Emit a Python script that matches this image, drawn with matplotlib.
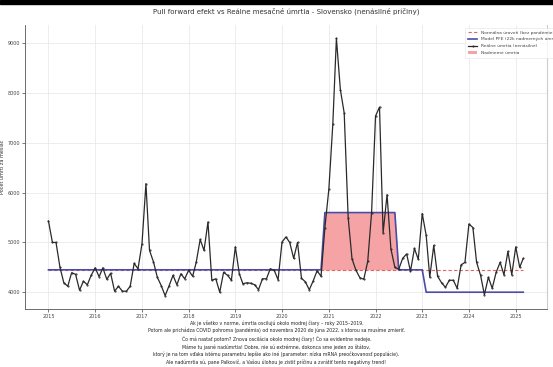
import numpy as np
import pandas as pd
import matplotlib
matplotlib.use("Agg")
import matplotlib.pyplot as plt
import matplotlib.dates as mdates
from matplotlib.patches import Rectangle

# monthly non-violent deaths, Jan 2015 - Mar 2025
months = pd.date_range("2015-01-01", "2025-03-01", freq="MS")
deaths = [
    5430, 5000, 5000, 4500, 4190, 4120, 4390, 4360, 4040, 4220, 4150, 4340,
    4490, 4310, 4490, 4260, 4380, 4020, 4120, 4020, 4020, 4120, 4580, 4470,
    4970, 6180, 4840, 4610, 4300, 4130, 3930, 4130, 4340, 4150, 4370, 4270,
    4440, 4320, 4600, 5060, 4840, 5410, 4240, 4270, 4000, 4400, 4340, 4240,
    4910, 4370, 4170, 4190, 4180, 4150, 4050, 4270, 4270, 4470, 4440, 4250,
    5010, 5110, 5000, 4680, 5000, 4280, 4210, 4050, 4230, 4430, 4320, 5300,
    6070, 7380, 9100, 8070, 7600, 5500, 4670, 4440, 4290, 4260, 4620, 5600,
    7540, 7720, 5190, 5960, 4870, 4500, 4460, 4680, 4770, 4420, 4880, 4660,
    5580, 5140, 4300, 4940, 4320, 4190, 4100, 4240, 4240, 4080, 4550, 4600,
    5370, 5300, 4600, 4340, 3950, 4300, 4080, 4400, 4600, 4350, 4820, 4350,
    4910, 4500, 4680,
]

normal_level = 4450

# PFE model: corner points of the step line
model_dates = pd.to_datetime(["2015-01-01", "2020-11-01", "2020-12-01", "2022-06-01",
                              "2022-07-01", "2023-01-01", "2023-02-01", "2025-03-01"])
model_values = [4450, 4450, 5600, 5600, 4450, 4450, 4000, 4000]

title = "Pull forward efekt vs Reálne mesačné úmrtia - Slovensko (nenásilné príčiny)"
ylabel = "Počet úmrtí za mesiac"
labels = ["Normálna úroveň (bez pandémie)", "Model PFE (22k nadmerných úmrtí)",
          "Reálne úmrtia (nenásilné)", "Nadmerné úmrtia"]
note = ("Ak je všetko v norme, úmrtia oscilujú okolo modrej čiary – roky 2015–2019.\n"
        "Potom ale prichádza COVID pohroma (pandémia) od novembra 2020 do júna 2022, s ktorou sa musíme zmieriť.\n"
        "Čo má nastať potom? Znova oscilácia okolo modrej čiary! Čo sa evidentne nedeje.\n"
        "Máme tu jasné nadúmrtia! Dobre, nie sú extrémne, dokonca sme jeden zo štátov,\n"
        "ktorý je na tom vďaka istému parametru lepšie ako iné (parameter: nízka mRNA preočkovanosť populácie).\n"
        "Ale nadúmrtia sú, pane Palkovič, a Vašou úlohou je zistiť príčinu a zvrátiť tento negatívny trend!")


def main():
    fig = plt.figure(figsize=(5.53, 3.67), dpi=100)
    ax = fig.add_axes([0.0447, 0.157, 0.9445, 0.775])

    ax.plot(months, [normal_level] * len(months), color="#e06666", lw=0.8,
            ls=(0, (3, 2)), label=labels[0], zorder=2)
    ax.plot(model_dates, model_values, color="#4b4ba8", lw=1.2, label=labels[1], zorder=3)
    ax.plot(months, deaths, color="#2a2a2a", lw=0.9, marker="o", ms=0.5,
            label=labels[2], zorder=4)
    ax.fill_between(model_dates, normal_level, np.maximum(model_values, normal_level),
                    color="#f5a3a5", lw=0, label=labels[3], zorder=1)

    ax.set_ylim(3655, 9370)
    ax.set_yticks([4000, 5000, 6000, 7000, 8000, 9000])
    ax.xaxis.set_major_locator(mdates.YearLocator(1))
    ax.xaxis.set_major_formatter(mdates.DateFormatter("%Y"))
    ax.set_title(title, fontsize=5, color="#333333", pad=8)
    ax.set_ylabel(ylabel, fontsize=3.5, color="#333333")
    ax.yaxis.set_label_coords(-0.037, 0.5)

    ax.grid(True, color="#e6e6e6", lw=0.5)
    ax.set_axisbelow(True)
    ax.tick_params(labelsize=3.5, length=2, width=0.5, colors="#444444", pad=1.5)
    ax.spines["top"].set_visible(False)
    ax.spines["right"].set_color("#cccccc")
    for s in ["left", "bottom"]:
        ax.spines[s].set_color("#555555")
        ax.spines[s].set_linewidth(0.6)

    leg = ax.legend(loc="upper left", bbox_to_anchor=(0.843, 0.99), fontsize=3.2,
                    frameon=True, borderaxespad=0, handlelength=2.2, labelspacing=0.6,
                    borderpad=0.6)
    leg.get_frame().set_linewidth(0.4)
    leg.get_frame().set_edgecolor("#dddddd")
    for t in leg.get_texts():
        t.set_color("#444444")

    fig.text(0.5, 0.005, note, ha="center", va="bottom", fontsize=3.3,
             color="#222222", linespacing=1.5)

    # black strip of the screenshot at the very top
    fig.patches.append(Rectangle((0, 1 - 4 / 367), 1, 4 / 367, transform=fig.transFigure,
                                 color="black", zorder=10))

    fig.savefig("out.png", dpi=100)


if __name__ == "__main__":
    main()
